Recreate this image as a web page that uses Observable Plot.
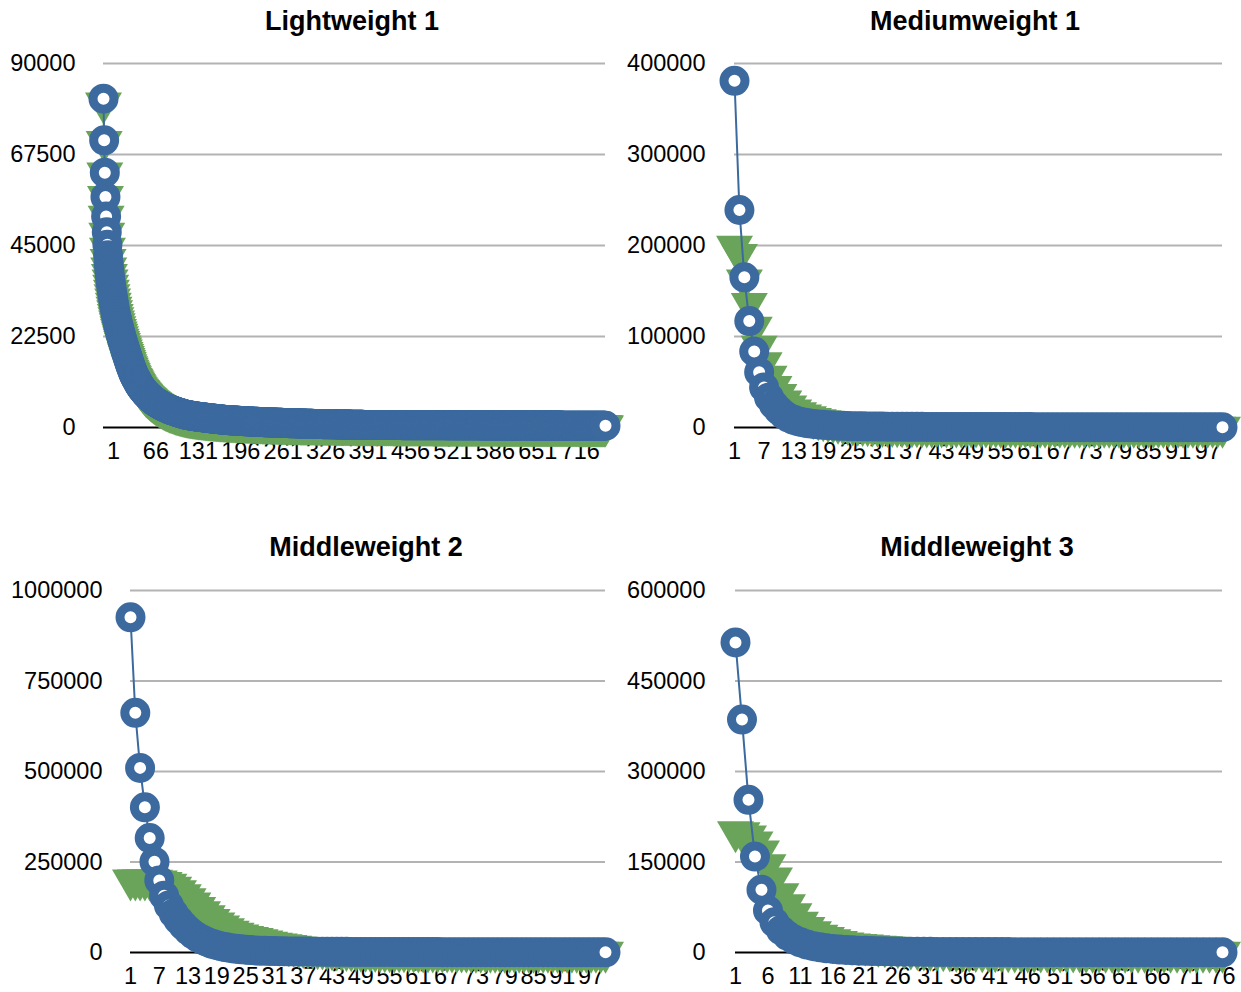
<!DOCTYPE html>
<html>
<head>
<meta charset="utf-8">
<script src="https://cdn.jsdelivr.net/npm/d3@7"></script>
<script src="https://cdn.jsdelivr.net/npm/@observablehq/plot@0.6"></script>
<style>
  body { margin: 0; background: #fff; }
  #chart { position: relative; width: 1241px; height: 992px; font-family: "Liberation Sans", Arial, sans-serif; overflow: hidden; }
  .title { position: absolute; width: 400px; text-align: center; font-weight: bold; font-size: 27px; line-height: 27px; color: #000; }
  .panel { position: absolute; }
</style>
</head>
<body>
<div id="chart"></div>
<script>
// ---------- Data ----------
const titles = ["Lightweight 1", "Mediumweight 1", "Middleweight 2", "Middleweight 3"];

const yTicksLw1 = [0, 22500, 45000, 67500, 90000];
const yTicksMw1 = [0, 100000, 200000, 300000, 400000];
const yTicksMid2 = [0, 250000, 500000, 750000, 1000000];
const yTicksMid3 = [0, 150000, 300000, 450000, 600000];

const xTicksLw1 = [1, 66, 131, 196, 261, 326, 391, 456, 521, 586, 651, 716];
const xTicksMw1 = [1, 7, 13, 19, 25, 31, 37, 43, 49, 55, 61, 67, 73, 79, 85, 91, 97];
const xTicksMid2 = [1, 7, 13, 19, 25, 31, 37, 43, 49, 55, 61, 67, 73, 79, 85, 91, 97];
const xTicksMid3 = [1, 6, 11, 16, 21, 26, 31, 36, 41, 46, 51, 56, 61, 66, 71, 76];

const lw1Blue = [
81300,71000,63000,57000,52200,48300,45200,42600,40500,38800,
37300,36000,34800,33700,32600,31600,30600,29700,28800,28000,
27200,26500,25800,25100,24500,23900,23300,22700,22100,21600,
21000,20500,20000,19400,18900,18400,17900,17400,16900,16400,
15900,15400,15000,14500,14100,13700,13300,12900,12600,12300,
12000,11700,11400,11100,10800,10500,10300,10000,9800,9600,
9400,9200,9000,8800,8600,8400,8250,8100,7950,7800,
7650,7500,7350,7200,7050,6900,6780,6660,6540,6420,
6300,6200,6100,6000,5900,5800,5700,5600,5500,5400,
5320,5240,5160,5080,5000,4920,4850,4780,4710,4640,
4570,4500,4440,4380,4320,4260,4200,4140,4080,4020,
3960,3900,3850,3800,3750,3700,3650,3600,3550,3500,
3450,3400,3350,3300,3250,3200,3170,3140,3110,3080,
3050,3020,2990,2960,2930,2900,2875,2850,2825,2800,
2775,2750,2725,2700,2675,2650,2630,2610,2590,2570,
2550,2530,2510,2490,2470,2450,2430,2410,2390,2370,
2350,2330,2310,2290,2270,2250,2232,2214,2196,2178,
2160,2142,2124,2106,2088,2070,2053,2036,2019,2002,
1985,1968,1951,1934,1917,1900,1885,1870,1855,1840,
1825,1810,1800,1790,1780,1770,1760,1750,1740,1730,
1720,1710,1700,1690,1680,1670,1660,1650,1640,1630,
1620,1610,1600,1590,1580,1570,1560,1550,1540,1530,
1522,1514,1506,1498,1490,1482,1474,1466,1458,1450,
1442,1434,1426,1418,1410,1402,1394,1386,1378,1370,
1362,1354,1346,1338,1330,1322,1314,1306,1298,1290,
1284,1278,1272,1266,1260,1254,1248,1242,1236,1230,
1224,1218,1212,1206,1200,1194,1188,1182,1176,1170,
1164,1158,1152,1146,1140,1134,1128,1122,1116,1110,
1104,1098,1092,1086,1080,1075,1070,1065,1060,1055,
1050,1045,1040,1035,1030,1025,1020,1015,1010,1005,
1000,995,990,985,980,975,970,965,960,955,
950,945,940,935,930,925,920,915,910,905,
900,895,890,885,880,875,870,865,860,855,
852,849,846,843,840,837,834,831,828,825,
822,819,816,813,810,807,804,801,798,795,
792,789,786,783,780,777,774,771,768,765,
762,759,756,753,750,747,744,741,738,735,
732,729,726,723,720,717,714,711,708,705,
702,699,696,693,690,687,684,681,678,675,
672,669,666,663,660,657,654,651,648,645,
644,643,642,641,640,639,638,637,636,635,
634,633,632,631,630,629,628,627,626,625,
624,623,622,621,620,619,618,617,616,615,
614,613,612,611,610,609,608,607,606,605,
604,603,602,601,600,599,598,597,596,595,
594,593,592,591,590,589,588,587,586,585,
584,584,583,583,582,582,581,581,580,580,
579,579,578,578,577,577,576,576,575,575,
574,574,573,573,572,572,571,571,570,570,
569,569,568,568,567,567,566,566,565,565,
564,564,563,563,562,562,561,561,560,560,
559,559,558,558,557,557,556,556,555,555,
554,554,553,553,552,552,551,551,550,550,
549,549,548,548,547,547,546,546,545,545,
544,544,543,543,542,542,541,541,540,540,
539,539,538,538,537,537,536,536,535,535,
534,534,533,533,532,532,531,531,530,530,
529,529,528,528,527,527,526,526,525,525,
524,524,523,523,522,522,521,521,520,520,
519,519,518,518,517,517,516,516,515,515,
514,514,513,513,512,512,511,511,510,510,
509,509,508,508,507,507,506,506,505,505,
504,504,503,503,502,502,501,501,500,500,
499,499,498,498,497,497,496,496,495,495,
494,494,493,493,492,492,491,491,490,490,
489,489,488,488,487,487,486,486,485,485,
484,484,483,483,482,482,481,481,480,480,
479,479,478,478,477,477,476,476,475,475,
474,474,473,473,472,472,471,471,470,470,
469,469,468,468,467,467,466,466,465,465,
464,464,463,463,462,462,461,461,460,460,
459,459,458,458,457,457,456,456,455,455,
454,454,453,453,452,452,451,451,450,450,
449,449,448,448,447,447,446,446,445,445,
444,444,443,443,442,442,441,441,440,440,
439,439,438,438,437,437,436,436,435,435,
434,434,433,433,432,432,431,431,430,430
];

const lw1Green = [
80200,70700,62900,57100,52200,48000,44300,41500,39400,37800,
36400,35100,33900,32800,31700,30700,29700,28800,27900,27100,
26300,25600,24900,24200,23600,23000,22400,21800,21200,20700,
20100,19600,19100,18500,18000,17500,17000,16500,16000,15500,
15000,14600,14100,13700,13300,12900,12500,12100,11800,11500,
11200,10900,10600,10300,10000,9800,9500,9300,9100,8900,
8700,8500,8300,8100,7900,7700,7550,7400,7250,7100,
6950,6800,6650,6500,6380,6260,6140,6020,5900,5780,
5670,5560,5450,5340,5240,5140,5040,4940,4840,4750,
4660,4570,4490,4410,4330,4250,4170,4100,4030,3960,
3890,3820,3760,3700,3640,3580,3520,3460,3400,3350,
3300,3250,3200,3150,3100,3050,3000,2960,2920,2880,
2840,2800,2760,2720,2680,2640,2610,2580,2550,2520,
2490,2460,2430,2400,2370,2340,2315,2290,2265,2240,
2215,2190,2170,2150,2130,2110,2090,2070,2050,2030,
2010,1990,1970,1950,1930,1910,1895,1880,1865,1850,
1835,1820,1805,1790,1775,1760,1745,1730,1715,1700,
1688,1676,1664,1652,1640,1628,1616,1604,1592,1580,
1569,1558,1547,1536,1525,1514,1503,1492,1481,1470,
1460,1450,1440,1430,1420,1410,1400,1390,1380,1370,
1361,1352,1343,1334,1325,1316,1307,1298,1289,1280,
1272,1264,1256,1248,1240,1232,1224,1216,1208,1200,
1193,1186,1179,1172,1165,1158,1151,1144,1137,1130,
1124,1118,1112,1106,1100,1094,1088,1082,1076,1070,
1064,1058,1052,1046,1040,1034,1028,1022,1016,1010,
1005,1000,995,990,985,980,975,970,965,960,
955,950,945,940,935,930,925,920,915,910,
906,902,898,894,890,886,882,878,874,870,
866,862,858,854,850,846,842,838,834,830,
827,824,821,818,815,812,809,806,803,800,
797,794,791,788,785,782,779,776,773,770,
767,764,761,758,755,752,749,746,743,740,
738,736,734,732,730,728,726,724,722,720,
718,716,714,712,710,708,706,704,702,700,
698,696,694,692,690,688,686,684,682,680,
678,676,674,672,670,668,666,664,662,660,
658,656,654,652,650,648,646,644,642,640,
638,636,634,632,630,628,626,624,622,620,
618,616,614,612,610,608,606,604,602,600,
599,598,597,596,595,594,593,592,591,590,
589,588,587,586,585,584,583,582,581,580,
579,578,577,576,575,574,573,572,571,570,
569,568,567,566,565,564,563,562,561,560,
559,558,557,556,555,554,553,552,551,550,
549,548,547,546,545,544,543,542,541,540,
539,538,537,536,535,534,533,532,531,530,
529,528,527,526,525,524,523,522,521,520,
519,518,517,516,515,514,513,512,511,510,
509,508,507,506,505,504,503,502,501,500,
499,498,497,496,495,494,493,492,491,490,
489,488,487,486,485,484,483,482,481,480,
479,478,477,476,475,474,473,472,471,470,
469,468,467,466,465,464,463,462,461,460,
459,459,458,458,457,457,456,456,455,455,
454,454,453,453,452,452,451,451,450,450,
449,449,448,448,447,447,446,446,445,445,
444,444,443,443,442,442,441,441,440,440,
439,439,438,438,437,437,436,436,435,435,
434,434,433,433,432,432,431,431,430,430,
429,429,428,428,427,427,426,426,425,425,
424,424,423,423,422,422,421,421,420,420,
419,419,418,418,417,417,416,416,415,415,
414,414,413,413,412,412,411,411,410,410,
409,409,408,408,407,407,406,406,405,405,
404,404,403,403,402,402,401,401,400,400,
399,399,398,398,397,397,396,396,395,395,
394,394,393,393,392,392,391,391,390,390,
389,389,388,388,387,387,386,386,385,385,
384,384,383,383,382,382,381,381,380,380,
379,379,378,378,377,377,376,376,375,375,
374,374,373,373,372,372,371,371,370,370,
369,369,368,368,367,367,366,366,365,365,
364,364,363,363,362,362,361,361,360,360,
359,359,358,358,357,357,356,356,355,355,
354,354,353,353,352,352,351,351,350,350,
349,349,348,348,347,347,346,346,345,345,
344,344,343,343,342,342,341,341,340,340
];

const mw1Blue = [
381000,239000,165000,117000,83500,60800,44000,33000,25000,19000,
14200,10800,8400,6700,5500,4600,3900,3350,2900,2550,
2250,2000,1800,1640,1500,1390,1290,1200,1120,1050,
990,940,890,850,810,780,750,720,695,670,
650,630,610,595,580,565,550,537,525,513,
502,492,482,472,463,454,446,438,430,423,
416,409,402,396,390,384,378,372,367,362,
357,352,347,342,338,334,330,326,322,318,
314,310,306,303,300,297,294,291,288,285,
282,279,276,273,270,267,264,261,258,255
];
const mw1Green = [
199000,190000,162000,136000,110000,89000,71000,56000,45000,36000,
29000,23500,19000,16000,13500,11500,9800,8400,7200,6200,
5300,4500,3800,3200,2700,2300,1950,1650,1400,1200,
1050,930,830,750,680,620,570,525,490,460,
432,406,383,362,343,326,310,296,283,271,
260,250,240,231,223,215,208,201,195,189,
183,178,173,168,163,159,155,151,147,143,
140,137,134,131,128,125,122,120,118,116,
114,112,110,108,106,104,102,100,98,96,
94,92,90,88,86,84,82,80,78,76
];

const mid2Blue = [
926000,662000,510000,401000,316000,251000,199000,157000,130000,108000,
90000,75000,62000,51000,42000,35000,29000,24000,20000,16800,
14200,12000,10200,8800,7600,6600,5800,5100,4600,4200,
3850,3550,3300,3080,2880,2700,2550,2420,2300,2200,
2100,2020,1940,1870,1800,1740,1680,1630,1580,1530,
1490,1450,1410,1370,1335,1300,1270,1240,1210,1180,
1150,1125,1100,1075,1050,1025,1000,980,960,940,
920,900,880,862,845,828,811,795,780,765,
750,736,722,708,695,682,669,656,644,632,
620,608,596,585,574,563,552,541,530,520
];
const mid2Green = [
200000,200000,200000,200000,200000,199000,197000,193000,188000,180000,
170000,159000,148000,136000,124000,112000,101000,91000,81000,73000,
65000,58000,53000,48000,44000,41000,38000,35000,31000,28000,
25000,23000,21000,19000,17000,15000,13500,12000,11000,10000,
9000,8000,7000,6200,5500,4800,4200,3700,3300,2900,
2600,2350,2150,1950,1800,1650,1520,1400,1300,1210,
1130,1060,990,930,870,820,770,725,685,645,
610,575,545,515,490,465,440,420,400,380,
362,345,330,315,300,287,275,263,252,242,
232,223,214,206,198,191,184,177,171,165
];

const mid3Blue = [
514000,386000,253000,159000,104000,69600,50000,37000,28000,21500,
16800,13200,10500,8500,7000,5800,4900,4200,3600,3100,
2700,2380,2120,1900,1720,1570,1440,1330,1230,1150,
1080,1020,965,915,870,830,795,762,732,705,
680,657,636,616,598,581,565,550,536,523,
511,499,488,477,467,457,448,439,430,422,
414,406,399,392,385,378,372,366,360,354,
348,343,338,333,328,323
];
const mid3Green = [
200000,198000,193000,183000,168000,145000,123000,97000,79000,64000,
50000,41000,34000,28500,24500,21000,18000,15500,14000,13000,
12000,11000,10200,9400,8500,7500,6500,5500,4700,4000,
3400,2900,2500,2150,1850,1600,1400,1250,1100,1000,
910,830,760,700,645,595,550,510,475,445,
418,393,370,349,330,312,296,281,267,254,
242,231,221,212,203,195,187,180,173,167,
161,155,150,145,140,135
];

// ---------- Styling / layout ----------
const BLUE = "#3c6a9f";
const GREEN = "#6aa45a";
const GRID = "#b3b3b3";
const FONT = '"Liberation Sans", Arial, Helvetica, sans-serif';

// Downward-pointing triangle, centred on its centroid (like the reference markers)
const triDown = {
  draw(ctx) {
    const hw = 18.5, h = 32;
    ctx.moveTo(-hw, -h / 3);
    ctx.lineTo(hw, -h / 3);
    ctx.lineTo(0, (2 * h) / 3);
    ctx.closePath();
  }
};

const panels = [
  { title: titles[0], blue: lw1Blue, green: lw1Green, yTicks: yTicksLw1, xTicks: xTicksLw1,
    left: 0, top: 0, width: 620, height: 480, ml: 103, mr: 15, mt: 63, mb: 53, yPad: 28, xDx: 10,
    tx: 352, ty: 8 },
  { title: titles[1], blue: mw1Blue, green: mw1Green, yTicks: yTicksMw1, xTicks: xTicksMw1,
    left: 620, top: 0, width: 621, height: 480, ml: 114, mr: 19, mt: 63, mb: 53, yPad: 29, xDx: 0,
    tx: 975, ty: 8 },
  { title: titles[2], blue: mid2Blue, green: mid2Green, yTicks: yTicksMid2, xTicks: xTicksMid2,
    left: 0, top: 500, width: 620, height: 492, ml: 130, mr: 15, mt: 90, mb: 40, yPad: 28, xDx: 0,
    tx: 366, ty: 534 },
  { title: titles[3], blue: mid3Blue, green: mid3Green, yTicks: yTicksMid3, xTicks: xTicksMid3,
    left: 620, top: 500, width: 621, height: 492, ml: 115, mr: 19, mt: 90, mb: 40, yPad: 30, xDx: 0,
    tx: 977, ty: 534 }
];

const chart = document.getElementById("chart");

for (const p of panels) {
  const n = p.blue.length;
  const rows = p.blue.map((v, i) => ({ i: i + 1, blue: v, green: p.green[i] }));
  const yMax = p.yTicks[p.yTicks.length - 1];

  const svg = Plot.plot({
    width: p.width,
    height: p.height,
    marginLeft: p.ml,
    marginRight: p.mr,
    marginTop: p.mt,
    marginBottom: p.mb,
    x: { type: "linear", domain: [1, n], axis: null },
    y: { type: "linear", domain: [0, yMax], axis: null },
    style: { overflow: "visible", background: "transparent", fontFamily: FONT, fontSize: "23.5px", color: "#000" },
    marks: [
      Plot.ruleY(p.yTicks.filter(d => d > 0), { stroke: GRID, strokeWidth: 2 }),
      Plot.ruleY([0], { stroke: "#000", strokeWidth: 2 }),
      Plot.text(p.yTicks, { y: d => d, frameAnchor: "left", dx: -p.yPad, textAnchor: "end",
        text: d => String(d), fontSize: 23.5, fill: "#000" }),
      Plot.text(p.xTicks, { x: d => d, frameAnchor: "bottom", dy: 31, dx: p.xDx,
        text: d => String(d), fontSize: 23.5, fill: "#000" }),
      Plot.line(rows, { x: "i", y: "green", stroke: GREEN, strokeWidth: 2 }),
      Plot.dot(rows, { x: "i", y: "green", symbol: triDown, fill: GREEN, stroke: "none", r: 10 }),
      Plot.line(rows, { x: "i", y: "blue", stroke: BLUE, strokeWidth: 2 }),
      Plot.dot(rows, { x: "i", y: "blue", r: 10.5, fill: "white", stroke: BLUE, strokeWidth: 9 })
    ]
  });
  svg.classList.add("panel");
  svg.style.left = p.left + "px";
  svg.style.top = p.top + "px";
  svg.style.maxWidth = "none";
  chart.appendChild(svg);

  const t = document.createElement("div");
  t.className = "title";
  t.textContent = p.title;
  t.style.left = (p.tx - 200) + "px";
  t.style.top = p.ty + "px";
  chart.appendChild(t);
}
</script>
</body>
</html>
